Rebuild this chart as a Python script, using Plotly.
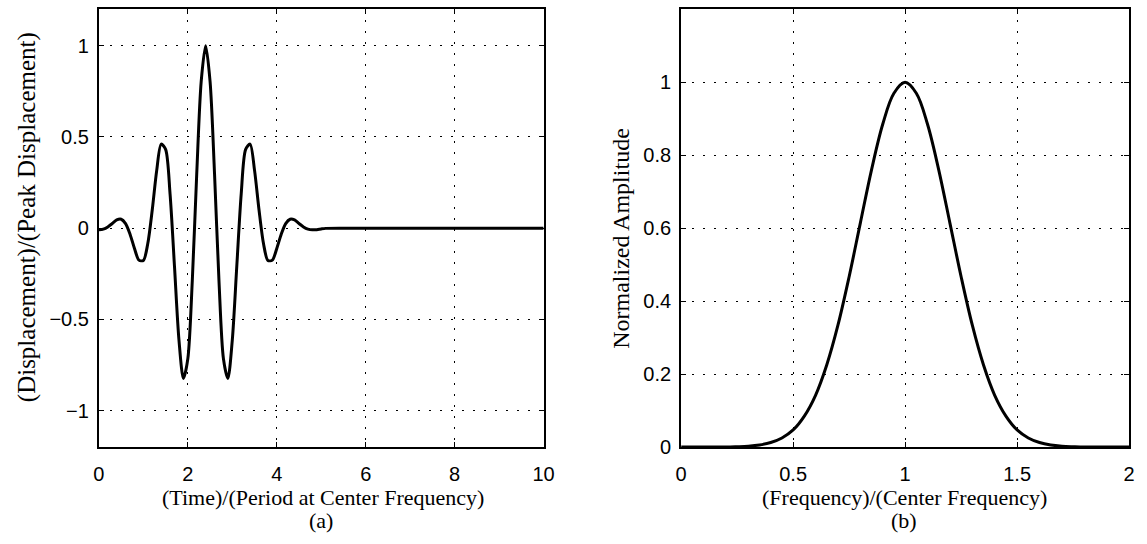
import plotly.graph_objects as go

# ---- Data ----
time_periods = [0.0, 0.1, 0.2, 0.3, 0.4, 0.5, 0.6, 0.7, 0.8, 0.9,
                1.0, 1.1, 1.2, 1.3, 1.4, 1.5, 1.6, 1.7, 1.8, 1.9,
                2.0, 2.1, 2.2, 2.3, 2.4, 2.5, 2.6, 2.7, 2.8, 2.9,
                3.0, 3.1, 3.2, 3.3, 3.4, 3.5, 3.6, 3.7, 3.8, 3.9,
                4.0, 4.1, 4.2, 4.3, 4.4, 4.5, 4.6, 4.7, 4.8, 4.9,
                5.0, 5.1, 5.5, 6.0, 7.0, 8.0, 9.0, 10.0]
displacement = [-0.009, -0.005, 0.007, 0.026, 0.045, 0.049, 0.025, -0.033, -0.111, -0.175,
                -0.177, -0.083, 0.101, 0.317, 0.461, 0.432, 0.188, -0.211, -0.612, -0.824,
                -0.715, -0.288, 0.300, 0.803, 1.000, 0.803, 0.300, -0.288, -0.715, -0.824,
                -0.612, -0.211, 0.188, 0.432, 0.461, 0.317, 0.101, -0.083, -0.177, -0.175,
                -0.111, -0.033, 0.025, 0.049, 0.045, 0.026, 0.007, -0.005, -0.009, -0.008,
                -0.004, -0.001, 0.0, 0.0, 0.0, 0.0, 0.0, 0.0]

frequency = [0.0, 0.1, 0.2, 0.25, 0.3, 0.35, 0.4, 0.45, 0.5, 0.55, 0.6, 0.65, 0.7, 0.75,
             0.8, 0.85, 0.9, 0.95, 1.0, 1.05, 1.1, 1.15, 1.2, 1.25, 1.3, 1.35,
             1.4, 1.45, 1.5, 1.55, 1.6, 1.65, 1.7, 1.75, 1.8, 1.9, 2.0]
amplitude = [0.0, 0.0, 0.0, 0.001, 0.0025, 0.0058, 0.0124, 0.025, 0.047, 0.085, 0.142, 0.225, 0.334, 0.467,
             0.614, 0.760, 0.885, 0.970, 1.000, 0.970, 0.885, 0.760, 0.614, 0.467, 0.334, 0.225,
             0.142, 0.085, 0.047, 0.025, 0.0124, 0.0058, 0.0025, 0.001, 0.0, 0.0, 0.0]

left_xticks = [0, 2, 4, 6, 8, 10]
left_yticks = [-1, -0.5, 0, 0.5, 1]
left_yticktext = ["\u22121", "\u22120.5", "0", "0.5", "1"]
right_xticks = [0, 0.5, 1, 1.5, 2]
right_xticktext = ["0", "0.5", "1", "1.5", "2"]
right_yticks = [0, 0.2, 0.4, 0.6, 0.8, 1]
right_yticktext = ["0", "0.2", "0.4", "0.6", "0.8", "1"]

W, H = 1147, 544
SANS = "Liberation Sans, Arial, Helvetica, sans-serif"
SERIF = "Liberation Serif, Times New Roman, serif"

fig = go.Figure()
fig.add_trace(go.Scatter(x=time_periods, y=displacement, mode="lines",
                         line=dict(color="black", width=3, shape="spline", smoothing=0.8),
                         xaxis="x", yaxis="y", showlegend=False))
fig.add_trace(go.Scatter(x=frequency, y=amplitude, mode="lines",
                         line=dict(color="black", width=3, shape="spline", smoothing=1.0),
                         xaxis="x2", yaxis="y2", showlegend=False))

axis_common = dict(showline=True, linecolor="black", linewidth=2, mirror="ticks",
                   ticks="inside", ticklen=5, tickcolor="black", tickwidth=1,
                   showgrid=True, gridcolor="black", gridwidth=1, griddash="2px,9px",
                   zeroline=False, tickfont=dict(family=SANS, size=20, color="black"))

top_px, bot_px = 9.5, 456.3
ydom = [1 - bot_px / H, 1 - top_px / H]

fig.update_layout(
    width=W, height=H,
    margin=dict(l=0, r=0, t=0, b=0),
    paper_bgcolor="white", plot_bgcolor="white",
    xaxis=dict(domain=[94.3 / W, 545.7 / W], range=[0, 10], tickvals=left_xticks,
               anchor="y", ticklabelstandoff=8, **axis_common),
    yaxis=dict(domain=ydom, range=[-1.2, 1.2], tickvals=left_yticks, ticktext=left_yticktext,
               anchor="x", ticklabelstandoff=4, **axis_common),
    xaxis2=dict(domain=[685.3 / W, 1140 / W], range=[0, 2], tickvals=right_xticks,
                ticktext=right_xticktext, anchor="y2", ticklabelstandoff=8, **axis_common),
    yaxis2=dict(domain=ydom, range=[0, 1.2], tickvals=right_yticks, ticktext=right_yticktext,
                anchor="x2", ticklabelstandoff=4, **axis_common),
)

def ann(text, xpx, ypx, angle=0, size=22):
    fig.add_annotation(text=text, x=xpx / W, y=1 - ypx / H, xref="paper", yref="paper",
                       showarrow=False, textangle=angle, xanchor="center", yanchor="middle",
                       font=dict(family=SERIF, size=size, color="black"))

ann("(Time)/(Period at Center Frequency)", 322, 508)
ann("(a)", 320, 531)
ann("(Displacement)/(Peak Displacement)", 21, 222, angle=-90, size=25)
ann("(Frequency)/(Center Frequency)", 912, 508)
ann("(b)", 912, 531)
ann("Normalized Amplitude", 624, 243, angle=-90, size=24)

fig.write_html("out.html")
